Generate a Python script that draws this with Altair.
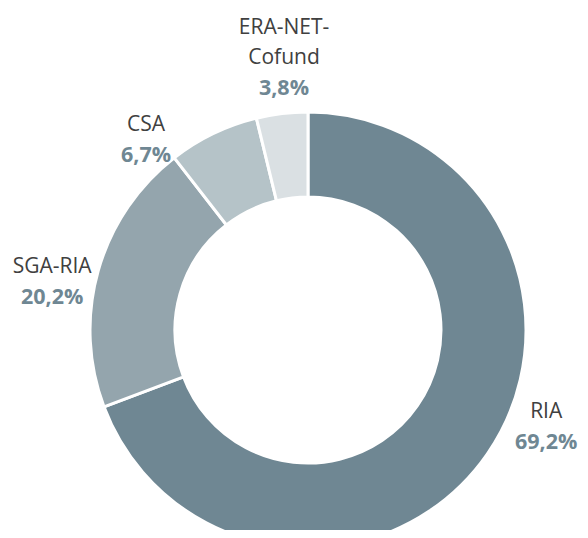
import math
import altair as alt
import pandas as pd

categories = ["RIA", "SGA-RIA", "CSA", "ERA-NET-\nCofund"]
shares = [69.2, 20.2, 6.7, 3.8]
pct_labels = ["69,2%", "20,2%", "6,7%", "3,8%"]
colors = ["#6f8793", "#94a5ad", "#b5c3c8", "#dae0e3"]

# label layout (angle nudge in degrees from slice middle, radius in px)
label_nudge = [-9.6, -8.4, -16.9, 1.2]
label_radius = [263, 258, 239, 244]

CX, CY = 300, 322
R_OUT, R_IN = 218, 133
LINE_H = 30

df = pd.DataFrame({"cat": categories, "share": shares, "pct": pct_labels,
                   "idx": list(range(len(categories)))})
total = sum(shares)
cum = 0
xs, ys, nys = [], [], []
for c, s, nd, r in zip(categories, shares, label_nudge, label_radius):
    mid = (cum + s / 2) / total * 360 + nd
    cum += s
    a = math.radians(mid)
    x = CX + r * math.sin(a)
    y = CY - r * math.cos(a) + 7.5
    xs.append(x)
    ys.append(y)
    nys.append(y - 27 - LINE_H * (c.count("\n")))
df["lx"] = xs
df["ly"] = ys
df["ny"] = nys

arc = alt.Chart(df).mark_arc(
    outerRadius=R_OUT, innerRadius=R_IN, stroke="white", strokeWidth=3
).encode(
    theta=alt.Theta("share:Q", stack=True),
    order=alt.Order("idx:Q"),
    color=alt.Color("cat:N", scale=alt.Scale(domain=categories, range=colors), legend=None),
    x=alt.value(CX),
    y=alt.value(CY),
)

names = alt.Chart(df).mark_text(
    font="Open Sans", fontSize=21, color="#404040", align="center",
    baseline="bottom", lineBreak="\n", lineHeight=LINE_H
).encode(
    x=alt.X("lx:Q", scale=None),
    y=alt.Y("ny:Q", scale=None),
    text="cat:N",
)

pcts = alt.Chart(df).mark_text(
    font="Open Sans", fontSize=21.5, fontWeight="bold", color="#6f8793",
    align="center", baseline="alphabetic"
).encode(
    x=alt.X("lx:Q", scale=None),
    y=alt.Y("ly:Q", scale=None),
    text="pct:N",
)

chart = alt.layer(arc, names, pcts).properties(
    width=572, height=522, padding=0,
    autosize=alt.AutoSizeParams(type="none"),
).configure_view(stroke=None)

chart.save("out.html", embed_options={"renderer": "svg", "actions": False})
